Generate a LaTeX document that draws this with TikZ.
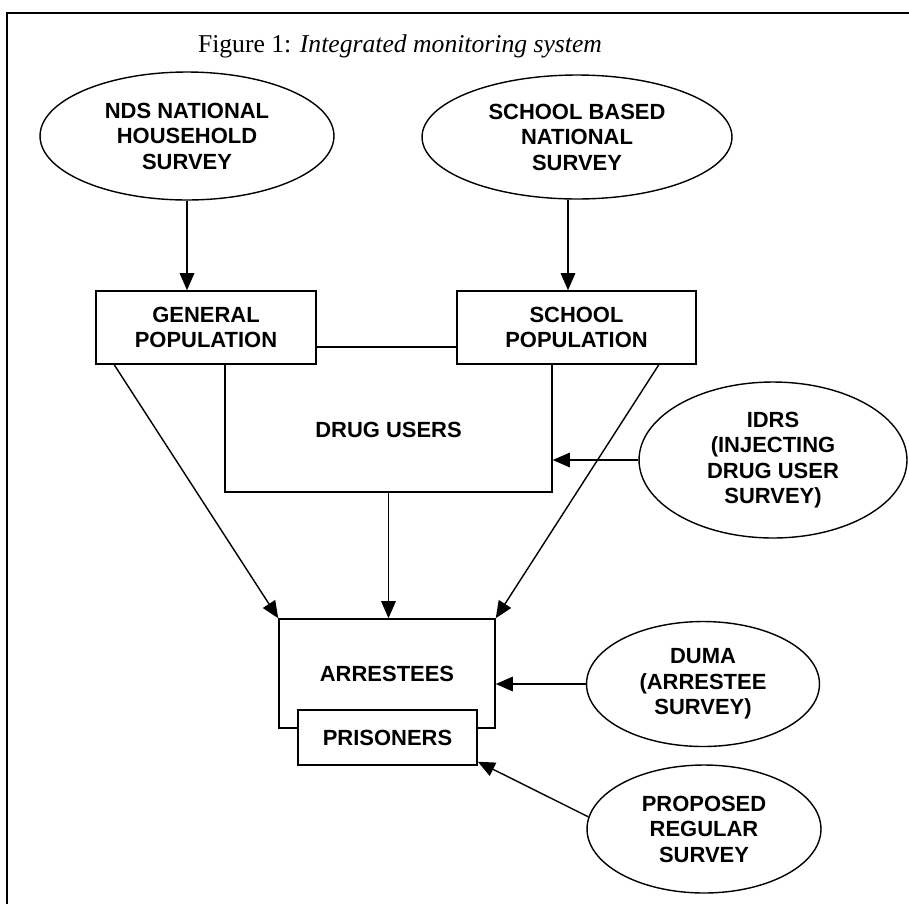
\documentclass[tikz,border=0pt]{standalone}
\usepackage{fontspec}
\setmainfont{Liberation Serif}
\newfontfamily\labelfont{Liberation Sans}
\usetikzlibrary{shapes,arrows.meta,positioning,calc}

\begin{document}
\begin{tikzpicture}[x=0.02cm, y=-0.02cm,
    lbl/.style={font=\labelfont\bfseries\fontsize{12.5}{14.5}\selectfont},
    box/.style={draw, line width=0.9pt, fill=white, align=center, inner sep=0pt, lbl},
    survey/.style={ellipse, draw, line width=0.8pt, align=center, inner sep=0pt, lbl},
    arr/.style={-{Triangle[length=3.4mm,width=2.9mm]}, line width=0.8pt}]
  \useasboundingbox (0,0) rectangle (909,904);
  \draw[line width=0.9pt] (7,904) -- (7,13) -- (909,13);
  \node[font=\fontsize{14.6}{16}\selectfont] (title) at (400,46) {Figure 1: \textit{Integrated monitoring system}};

  \node[box, minimum width=6.54cm, minimum height=2.9cm, label={[lbl, yshift=-0.2cm]center:DRUG USERS}] (drug) at (388.5,419.5) {};
  \node[box, minimum width=4.4cm, minimum height=1.46cm] (general) at (206,327.5) {GENERAL\\POPULATION};
  \node[box, minimum width=4.78cm, minimum height=1.46cm] (school) at (576.5,327.5) {SCHOOL\\POPULATION};
  \node[survey, minimum width=5.88cm, minimum height=2.56cm] (nds) at (187,136) {NDS NATIONAL\\HOUSEHOLD\\SURVEY};
  \node[survey, minimum width=6.2cm, minimum height=2.48cm] (schsurvey) at (577,137) {SCHOOL BASED\\NATIONAL\\SURVEY};
  \node[survey, minimum width=5.36cm, minimum height=3.12cm] (idrs) at (773,460) {IDRS\\(INJECTING\\DRUG USER\\SURVEY)};
  \node[box, minimum width=4.32cm, minimum height=2.18cm] (arrestees) at (387,673.5) {ARRESTEES};
  \node[box, minimum width=3.58cm, minimum height=1.1cm] (prisoners) at (387.5,737.5) {PRISONERS};
  \node[survey, minimum width=4.66cm, minimum height=2.5cm] (duma) at (703,684) {DUMA\\(ARRESTEE\\SURVEY)};
  \node[survey, minimum width=4.68cm, minimum height=2.56cm] (proposed) at (704,829) {PROPOSED\\REGULAR\\SURVEY};

  \draw[arr] (nds.south) -- (nds.south |- general.north);
  \draw[arr] ([xshift=-0.18cm]schsurvey.south) -- ([xshift=-0.18cm]schsurvey.south |- school.north);
  \draw[arr] ([xshift=0.38cm]general.south west) -- (arrestees.north west);
  \draw[arr] ([xshift=-0.76cm]school.south east) -- (arrestees.north east);
  \draw[arr] (drug.south) -- (drug.south |- arrestees.north);
  \draw[arr] (idrs.west) -- (idrs.west -| drug.east);
  \draw[arr] (duma.west) -- (duma.west -| arrestees.east);
  \draw[arr] (proposed.174) -- (prisoners.-15);
\end{tikzpicture}
\end{document}
